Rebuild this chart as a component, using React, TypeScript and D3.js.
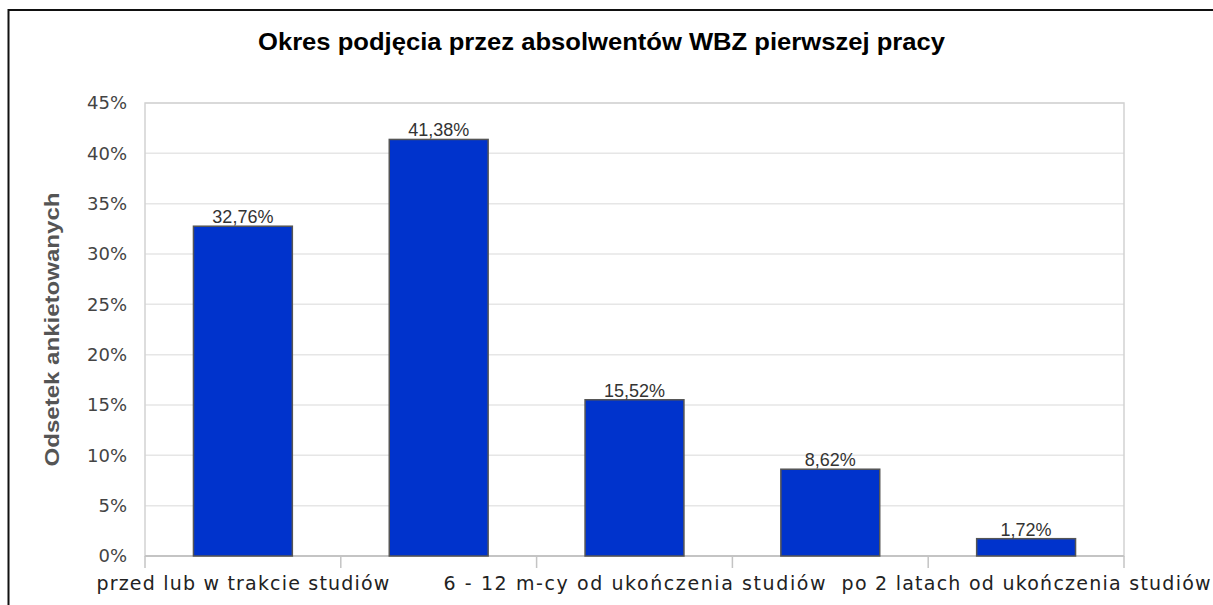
import React from "react";
import * as d3 from "d3";

const categories = [
  "przed lub w trakcie studiów",
  "do 6 m-cy od ukończenia studiów",
  "6 - 12 m-cy od ukończenia studiów",
  "1 - 2 lata od ukończenia studiów",
  "po 2 latach od ukończenia studiów",
];
const values = [32.76, 41.38, 15.52, 8.62, 1.72];
const valueLabels = ["32,76%", "41,38%", "15,52%", "8,62%", "1,72%"];
const yTicks = [0, 5, 10, 15, 20, 25, 30, 35, 40, 45];
const shownLabelIdx = [0, 2, 4];
const title = "Okres podjęcia przez absolwentów WBZ pierwszej pracy";
const yTitle = "Odsetek ankietowanych";

const W = 1213;
const H = 605;
const plot = { left: 145, right: 1124, top: 103, bottom: 556 };
const labelWidths: Record<number, number> = { 0: 293, 2: 382, 4: 369 };

export default function App() {
  const x = d3
    .scaleBand<string>()
    .domain(categories)
    .range([plot.left, plot.right])
    .paddingInner(0)
    .paddingOuter(0);
  const y = d3.scaleLinear().domain([0, 45]).range([plot.bottom, plot.top]);
  const bw = x.bandwidth() * 0.505;
  const boundaries = d3.range(categories.length + 1).map((i) => plot.left + i * x.bandwidth());

  return (
    <svg
      width={W}
      height={H}
      style={{ position: "absolute", left: 0, top: 0, background: "#fff" }}
    >
      <rect x={0} y={0} width={W} height={H} fill="#fff" />
      {/* outer border */}
      <path d={`M8.5,${H} L8.5,10 L${W},10`} fill="none" stroke="#111" strokeWidth={2} />
      {/* title */}
      <text
        x={601.5}
        y={50}
        textAnchor="middle"
        fontFamily="'Liberation Sans', Arial, sans-serif"
        fontWeight="bold"
        fontSize={24}
        fill="#000"
        textLength={687}
        lengthAdjust="spacingAndGlyphs"
      >
        {title}
      </text>
      {/* gridlines */}
      {yTicks.map((t) => (
        <line
          key={t}
          x1={plot.left}
          x2={plot.right}
          y1={y(t)}
          y2={y(t)}
          stroke="#e6e6e6"
          strokeWidth={1.5}
        />
      ))}
      {/* plot outline */}
      <rect
        x={plot.left}
        y={plot.top}
        width={plot.right - plot.left}
        height={plot.bottom - plot.top}
        fill="none"
        stroke="#d2d2d2"
        strokeWidth={1.5}
      />
      {/* x axis line and ticks */}
      <line x1={plot.left} x2={plot.right} y1={plot.bottom} y2={plot.bottom} stroke="#c4c4c4" strokeWidth={2} />
      {boundaries.map((bx, i) => (
        <line key={i} x1={bx} x2={bx} y1={plot.bottom} y2={plot.bottom + 12} stroke="#c4c4c4" strokeWidth={1.5} />
      ))}
      {/* bars */}
      {categories.map((c, i) => {
        const cx = (x(c) as number) + x.bandwidth() / 2;
        return (
          <g key={c}>
            <rect
              x={cx - bw / 2}
              y={y(values[i])}
              width={bw}
              height={plot.bottom - y(values[i])}
              fill="#0033cc"
              stroke="#555"
              strokeWidth={1.5}
            />
            <text
              x={cx}
              y={y(values[i]) - 3}
              textAnchor="middle"
              fontFamily="'Liberation Sans', Arial, sans-serif"
              fontSize={18}
              fill="#333"
            >
              {valueLabels[i]}
            </text>
          </g>
        );
      })}
      {/* y tick labels */}
      {yTicks.map((t) => (
        <text
          key={t}
          x={127}
          y={y(t)}
          dy="0.36em"
          textAnchor="end"
          fontFamily="'DejaVu Sans', sans-serif"
          fontSize={18}
          fill="#444"
        >
          {`${t}%`}
        </text>
      ))}
      {/* y axis title */}
      <text
        transform={`translate(58.5,${(plot.top + plot.bottom) / 2}) rotate(-90)`}
        textAnchor="middle"
        fontFamily="'Liberation Sans', Arial, sans-serif"
        fontWeight="bold"
        fontSize={21}
        fill="#555"
        textLength={274}
        lengthAdjust="spacingAndGlyphs"
      >
        {yTitle}
      </text>
      {/* category labels */}
      {shownLabelIdx.map((i) => {
        const c = categories[i];
        const cx = (x(c) as number) + x.bandwidth() / 2;
        return (
          <text
            key={c}
            x={cx}
            y={590}
            textAnchor="middle"
            fontFamily="'DejaVu Sans', sans-serif"
            fontSize={19}
            fill="#222"
            textLength={labelWidths[i]}
            lengthAdjust="spacing"
          >
            {c}
          </text>
        );
      })}
    </svg>
  );
}
